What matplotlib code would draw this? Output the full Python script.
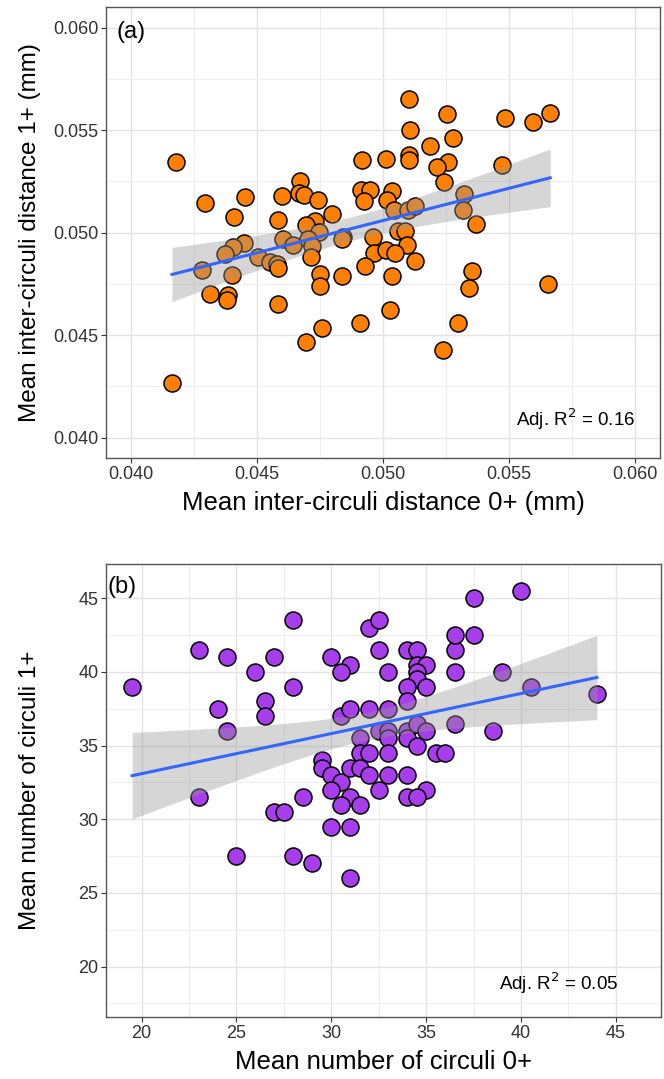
import numpy as np
import matplotlib
matplotlib.use('Agg')
from matplotlib import pyplot as plt
from matplotlib.ticker import MultipleLocator, FormatStrFormatter

plt.rcParams['font.family'] = ['Liberation Sans', 'DejaVu Sans']

# panel (a): mean inter-circuli distance (mm), age 0+ vs 1+
dist_0 = [0.04178, 0.04292, 0.04454, 0.04408, 0.04600, 0.04671, 0.04668, 0.04686,
          0.04743, 0.04799, 0.04584, 0.04916, 0.05012, 0.04912, 0.04947, 0.04925,
          0.04730, 0.04694, 0.04747, 0.04604, 0.04644, 0.04447, 0.04405, 0.04372,
          0.04701, 0.04719, 0.04713, 0.04504, 0.04551, 0.04580, 0.04584, 0.04843,
          0.04836, 0.04960, 0.04963, 0.04929, 0.04750, 0.04750, 0.04839, 0.04401,
          0.04283, 0.04312, 0.04385, 0.04382, 0.04582, 0.04757, 0.04693, 0.04910,
          0.04162, 0.05105, 0.05255, 0.05483, 0.05596, 0.05664, 0.05109, 0.05279,
          0.05186, 0.05102, 0.05105, 0.05258, 0.05215, 0.05241, 0.05471, 0.05036,
          0.05016, 0.05042, 0.05100, 0.05129, 0.05321, 0.05317, 0.05368, 0.05058,
          0.05086, 0.05096, 0.05013, 0.05046, 0.05129, 0.05036, 0.05352, 0.05341,
          0.05656, 0.05299, 0.05239, 0.05029]
dist_1 = [0.05342, 0.05145, 0.05174, 0.05077, 0.05177, 0.05253, 0.05194, 0.05185,
          0.05161, 0.05092, 0.05059, 0.05355, 0.05359, 0.05205, 0.05206, 0.05156,
          0.05056, 0.05035, 0.05002, 0.04967, 0.04938, 0.04951, 0.04931, 0.04897,
          0.04966, 0.04934, 0.04883, 0.04883, 0.04856, 0.04848, 0.04826, 0.04980,
          0.04967, 0.04977, 0.04902, 0.04837, 0.04797, 0.04740, 0.04786, 0.04795,
          0.04816, 0.04700, 0.04695, 0.04670, 0.04651, 0.04536, 0.04465, 0.04557,
          0.04267, 0.05650, 0.05579, 0.05558, 0.05539, 0.05582, 0.05498, 0.05460,
          0.05423, 0.05376, 0.05352, 0.05344, 0.05318, 0.05245, 0.05328, 0.05201,
          0.05158, 0.05112, 0.05112, 0.05129, 0.05190, 0.05112, 0.05040, 0.05007,
          0.05007, 0.04938, 0.04915, 0.04899, 0.04861, 0.04789, 0.04813, 0.04727,
          0.04748, 0.04557, 0.04428, 0.04623]

# panel (b): mean number of circuli, age 0+ vs 1+
circ_0 = [19.5, 23, 24.5, 26, 27, 28, 28, 24, 26.5, 26.5, 24.5, 30, 31, 30.5, 32, 32.5,
          32.5, 34, 34.5, 36.5, 36.5, 37.5, 37.5, 40, 33, 34.5, 35, 34.5, 34.5, 34, 35,
          34, 36.5, 39, 40.5, 44, 30.5, 31, 32, 33, 32.5, 33, 34, 34.5, 35, 36.5, 38.5,
          31.5, 33, 34, 34.5, 31.5, 32, 33, 35.5, 36, 29.5, 29.5, 30, 30.5, 31, 31.5,
          32, 33, 34, 30, 32.5, 35, 28.5, 31, 34, 34.5, 30.5, 31.5, 30, 31, 28, 29, 31,
          23, 25, 27, 27.5]
circ_1 = [39, 41.5, 41, 40, 41, 43.5, 39, 37.5, 38, 37, 36, 41, 40.5, 40, 43, 43.5,
          41.5, 41.5, 41.5, 41.5, 42.5, 42.5, 45, 45.5, 40, 40.5, 40.5, 40, 39.5, 39, 39,
          38, 40, 40, 39, 38.5, 37, 37.5, 37.5, 37.5, 36, 36, 36, 36.5, 36, 36.5, 36,
          35.5, 35.5, 35.5, 35, 34.5, 34.5, 34.5, 34.5, 34.5, 34, 33.5, 33, 32.5, 33.5,
          33.5, 33, 33, 33, 32, 32, 32, 31.5, 31.5, 31.5, 31.5, 31, 31, 29.5, 29.5, 27.5,
          27, 26, 31.5, 27.5, 30.5, 30.5]

r2_a = '0.16'
r2_b = '0.05'


def lm_band(x, y, n=80):
    # straight-line fit with 95% confidence band, like geom_smooth(method='lm')
    x = np.asarray(x)
    y = np.asarray(y)
    b, a = np.polyfit(x, y, 1)
    xs = np.linspace(x.min(), x.max(), n)
    fit = a + b * xs
    res = y - (a + b * x)
    s = np.sqrt(np.sum(res ** 2) / (len(x) - 2))
    se = s * np.sqrt(1.0 / len(x) + (xs - x.mean()) ** 2 / np.sum((x - x.mean()) ** 2))
    t = 1.99  # t(0.975, ~80 df)
    return xs, fit, fit - t * se, fit + t * se


def panel(ax, x, y, color, xmaj, ymaj):
    xs, fit, lo, hi = lm_band(x, y)
    ax.scatter(x, y, s=150, c=color, edgecolors='black', linewidths=1.1, zorder=3)
    ax.fill_between(xs, lo, hi, color='#999999', alpha=0.4, linewidth=0, zorder=4)
    ax.plot(xs, fit, color='#3366FF', lw=2.2, zorder=5)
    ax.xaxis.set_major_locator(MultipleLocator(xmaj))
    ax.xaxis.set_minor_locator(MultipleLocator(xmaj / 2))
    ax.yaxis.set_major_locator(MultipleLocator(ymaj))
    ax.yaxis.set_minor_locator(MultipleLocator(ymaj / 2))
    ax.grid(which='major', color='#E3E3E3', lw=1.0, zorder=0)
    ax.grid(which='minor', color='#EEEEEE', lw=0.8, zorder=0)
    ax.set_axisbelow(True)
    for sp in ax.spines.values():
        sp.set_color('#555555')
        sp.set_linewidth(1.0)
    ax.tick_params(which='major', length=3.5, width=0.8, color='#333333',
                   labelsize=13, labelcolor='#333333', pad=2)
    ax.tick_params(which='minor', length=0)


fig = plt.figure(figsize=(6.64, 10.79), dpi=100)

ax1 = fig.add_axes([0.1596, 0.5755, 0.8343, 0.418])
panel(ax1, dist_0, dist_1, '#FF8000', 0.005, 0.005)
ax1.set_xlim(0.039, 0.061)
ax1.set_ylim(0.039, 0.061)
ax1.xaxis.set_major_formatter(FormatStrFormatter('%.3f'))
ax1.yaxis.set_major_formatter(FormatStrFormatter('%.3f'))
ax1.set_xlabel('Mean inter-circuli distance 0+ (mm)', fontsize=18.5, labelpad=6)
ax1.set_ylabel('Mean inter-circuli distance 1+ (mm)', fontsize=17.5)
ax1.yaxis.set_label_coords(-0.117, 0.5)
ax1.text(0.0400, 0.0598, '(a)', fontsize=17, ha='center', va='center')
ax1.text(0.0600, 0.0409, 'Adj. R$^2$ = ' + r2_a, fontsize=13.5, ha='right', va='center')

ax2 = fig.add_axes([0.1596, 0.0575, 0.836, 0.4198])
panel(ax2, circ_0, circ_1, '#A83DEB', 5, 5)
ax2.set_xlim(18.12, 47.38)
ax2.set_ylim(16.58, 47.33)
ax2.set_xlabel('Mean number of circuli 0+', fontsize=18.5, labelpad=6)
ax2.set_ylabel('Mean number of circuli 1+', fontsize=17.5)
ax2.yaxis.set_label_coords(-0.117, 0.5)
ax2.text(18.95, 45.77, '(b)', fontsize=17, ha='center', va='center')
ax2.text(45.1, 18.9, 'Adj. R$^2$ = ' + r2_b, fontsize=13.5, ha='right', va='center')

fig.savefig('out.png', dpi=100)
